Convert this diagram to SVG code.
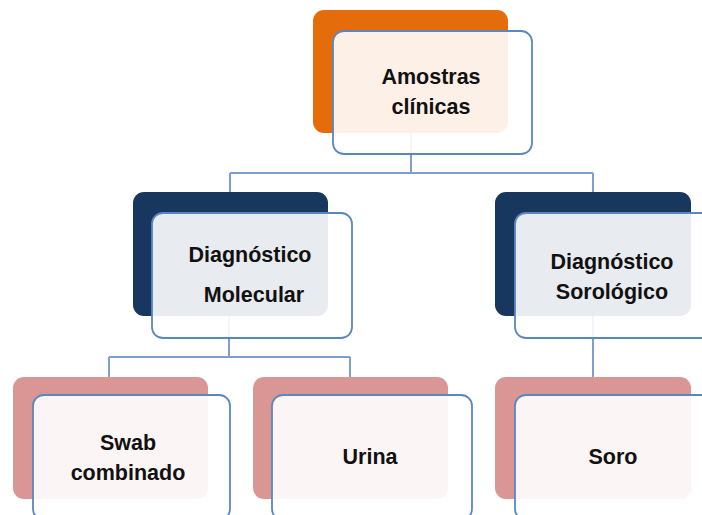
<svg xmlns="http://www.w3.org/2000/svg" width="702" height="515" viewBox="0 0 702 515">
<style>
.back{stroke:none}
.orange{fill:#E46C0A}
.navy{fill:#17375E}
.pink{fill:#D99694}
.front{fill:#FFFFFF;fill-opacity:0.9;stroke:#5B87C0;stroke-width:1.8}
.conn{fill:none;stroke:#7E9FCB;stroke-width:2}
text{font-family:"Liberation Sans",Arial,sans-serif;font-weight:bold;font-size:21.5px;fill:#111;text-anchor:middle;dominant-baseline:central}
</style>
<rect width="702" height="515" fill="#FFFFFF"/>
<g id="connectors">
<path class="conn" d="M411,133 V173 M230,173 H593 M230,173 V193 M593,173 V193"/>
<path class="conn" d="M229,316 V357 M109,357 H350 M109,357 V378 M350,357 V378"/>
<path class="conn" d="M593,316 V378"/>
</g>
<g id="node-amostras">
<rect class="back orange" x="313" y="10" width="195" height="123" rx="11"/>
<rect class="front" x="333" y="31" width="199" height="123" rx="11"/>
<text x="431" y="77">Amostras</text>
<text x="431" y="107">clínicas</text>
</g>
<g id="node-molecular">
<rect class="back navy" x="133" y="192" width="195" height="124" rx="11"/>
<rect class="front" x="152" y="213" width="200" height="125" rx="11"/>
<text x="250" y="255">Diagnóstico</text>
<text x="254" y="295">Molecular</text>
</g>
<g id="node-sorologico">
<rect class="back navy" x="495" y="192" width="196" height="124" rx="11"/>
<rect class="front" x="515" y="213" width="200" height="125" rx="11"/>
<text x="612" y="262">Diagnóstico</text>
<text x="612" y="292">Sorológico</text>
</g>
<g id="node-swab">
<rect class="back pink" x="13" y="377" width="195" height="122" rx="11"/>
<rect class="front" x="33" y="395" width="197" height="125" rx="11"/>
<text x="128" y="443">Swab</text>
<text x="128" y="473">combinado</text>
</g>
<g id="node-urina">
<rect class="back pink" x="253" y="377" width="195" height="122" rx="11"/>
<rect class="front" x="272" y="395" width="200" height="125" rx="11"/>
<text x="370" y="457">Urina</text>
</g>
<g id="node-soro">
<rect class="back pink" x="495" y="377" width="196" height="122" rx="11"/>
<rect class="front" x="515" y="395" width="200" height="125" rx="11"/>
<text x="613" y="457">Soro</text>
</g>
</svg>
